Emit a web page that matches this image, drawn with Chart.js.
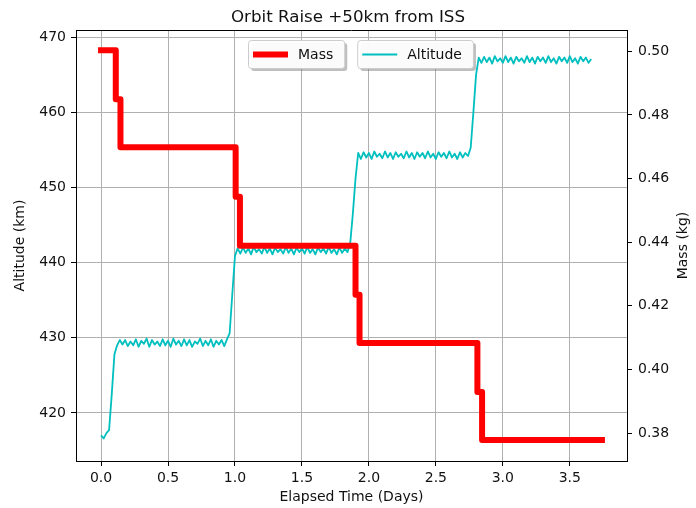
<!DOCTYPE html>
<html lang="en">
<head>
    <meta charset="UTF-8">
    <title>Orbit Raise +50km from ISS</title>
    <style>
        body {
            margin: 0;
            background: white;
        }
        #chart {
            display: block;
        }
    </style>
    <script src="https://cdn.jsdelivr.net/npm/chart.js"></script>
</head>
<body>
    <canvas id="chart" width="696" height="508"></canvas>
    <script>
        // Mass: step changes (days, kg)
        const massTimes = [0, 0.11, 0.145, 1.005, 1.037, 1.90, 1.93, 2.81, 2.845, 3.74];
        const massValues = [0.5003, 0.4849, 0.4698, 0.4543, 0.4389, 0.4235, 0.4083, 0.3929, 0.3778, 0.3778];

        // Altitude sampled every 0.02 days from t = 0 (km)
        const altStart = 0;
        const altStep = 0.02;
        const altitudeValues = [
            417.0, 416.6, 417.3, 417.7, 422.5, 427.8, 429.0, 429.7,
            429.1, 429.7, 428.9, 429.5, 429.0, 429.8, 428.8, 429.6, 429.2, 429.9,
            428.8, 429.7, 429.1, 429.5, 428.9, 429.8, 429.0, 429.6, 428.8, 429.9,
            429.1, 429.6, 428.9, 429.8, 429.0, 429.7, 428.8, 429.5, 429.2, 429.9,
            428.9, 429.6, 429.0, 429.8, 428.8, 429.6, 429.1, 429.7, 428.9, 429.8,
            430.6, 435.8, 440.9, 441.9,
            441.2, 442.0, 441.3, 441.9, 441.1, 442.1, 441.4, 441.8, 441.2, 442.1,
            441.3, 441.9, 441.1, 442.0, 441.4, 441.8, 441.2, 442.1, 441.3, 441.9,
            441.1, 442.0, 441.4, 441.9, 441.2, 442.1, 441.3, 441.8, 441.1, 442.0,
            441.4, 441.9, 441.2, 442.1, 441.3, 441.8, 441.1, 442.0, 441.3, 441.9,
            441.4,
            442.5, 446.5, 451.2, 454.6,
            453.8, 454.7, 454.0, 454.6, 453.8, 454.8, 454.1, 454.5, 453.9, 454.8,
            454.0, 454.6, 453.8, 454.7, 454.1, 454.5, 453.9, 454.8, 454.0, 454.6,
            453.8, 454.7, 454.1, 454.6, 453.9, 454.8, 454.0, 454.5, 453.8, 454.7,
            454.1, 454.6, 453.9, 454.8, 454.0, 454.5, 453.8, 454.7, 454.0, 454.6,
            454.2,
            455.3, 460.0, 465.0, 467.3,
            466.6, 467.4, 466.7, 467.3, 466.5, 467.5, 466.8, 467.2, 466.6, 467.5,
            466.7, 467.3, 466.5, 467.4, 466.8, 467.2, 466.6, 467.5, 466.7, 467.3,
            466.5, 467.4, 466.8, 467.3, 466.6, 467.5, 466.7, 467.2, 466.5, 467.4,
            466.8, 467.3, 466.6, 467.5, 466.7, 467.2, 466.5, 467.4, 466.8, 467.3,
            466.6, 467.1
        ];

        // tick labels
        const xTicks = [0, 0.5, 1.0, 1.5, 2.0, 2.5, 3.0, 3.5];
        const altTicks = [420, 430, 440, 450, 460, 470];
        const massTicks = [0.38, 0.40, 0.42, 0.44, 0.46, 0.48, 0.50];

        const FONT = '"DejaVu Sans", sans-serif';

        const massPoints = massTimes.map((t, i) => ({ x: t, y: massValues[i] }));
        const altPoints = altitudeValues.map((v, i) => ({ x: altStart + i * altStep, y: v }));

        // matplotlib style boxed legends + frame + right axis title
        const extras = {
            id: 'extras',
            afterDatasetsDraw(chart) {
                const { ctx, chartArea } = chart;
                ctx.save();
                ctx.font = '14px ' + FONT;
                let x = chartArea.left + 172;
                const y = chartArea.top + 10;
                const h = 28;
                chart.data.datasets.forEach((ds) => {
                    const w = 50 + ctx.measureText(ds.label).width + 11;
                    // shadow
                    ctx.fillStyle = 'rgba(128,128,128,0.5)';
                    ctx.beginPath();
                    ctx.roundRect(x + 3, y + 3, w, h, 3);
                    ctx.fill();
                    // box
                    ctx.fillStyle = 'rgba(255,255,255,0.95)';
                    ctx.strokeStyle = '#cccccc';
                    ctx.lineWidth = 1;
                    ctx.beginPath();
                    ctx.roundRect(x + 0.5, y + 0.5, w, h, 3);
                    ctx.fill();
                    ctx.stroke();
                    // sample line
                    ctx.strokeStyle = ds.borderColor;
                    ctx.lineWidth = ds.borderWidth;
                    ctx.beginPath();
                    ctx.moveTo(x + 5, y + h / 2 + 0.5);
                    ctx.lineTo(x + 40, y + h / 2 + 0.5);
                    ctx.stroke();
                    // label
                    ctx.fillStyle = '#111';
                    ctx.textBaseline = 'middle';
                    ctx.textAlign = 'left';
                    ctx.fillText(ds.label, x + 50, y + h / 2 + 1);
                    x += w + 13;
                });
                ctx.restore();
            },
            afterDraw(chart) {
                const { ctx, chartArea } = chart;
                ctx.save();
                // top spine
                ctx.strokeStyle = '#000';
                ctx.lineWidth = 1;
                ctx.beginPath();
                ctx.moveTo(chartArea.left, chartArea.top + 0.5);
                ctx.lineTo(chartArea.right, chartArea.top + 0.5);
                ctx.stroke();
                // right axis title, reading bottom to top like matplotlib
                ctx.font = '14px ' + FONT;
                ctx.fillStyle = '#111';
                ctx.textAlign = 'center';
                ctx.textBaseline = 'middle';
                ctx.translate(683, (chartArea.top + chartArea.bottom) / 2);
                ctx.rotate(-Math.PI / 2);
                ctx.fillText('Mass (kg)', 0, 0);
                ctx.restore();
            }
        };

        const ctx = document.getElementById('chart').getContext('2d');
        new Chart(ctx, {
            type: 'line',
            data: {
                datasets: [{
                    label: 'Mass',
                    data: massPoints,
                    yAxisID: 'yMass',
                    borderColor: '#ff0000',
                    borderWidth: 6,
                    stepped: true,
                    borderJoinStyle: 'round',
                    borderCapStyle: 'square',
                    pointRadius: 0,
                    fill: false
                }, {
                    label: 'Altitude',
                    data: altPoints,
                    yAxisID: 'yAlt',
                    borderColor: '#00bfbf',
                    borderWidth: 1.8,
                    borderJoinStyle: 'round',
                    pointRadius: 0,
                    tension: 0,
                    fill: false
                }]
            },
            options: {
                responsive: false,
                animation: false,
                devicePixelRatio: 1,
                layout: { padding: 0 },
                plugins: {
                    legend: { display: false },
                    tooltip: { enabled: false },
                    title: {
                        display: true,
                        text: 'Orbit Raise +50km from ISS',
                        color: '#111',
                        font: { family: FONT, size: 16.7, weight: 'normal', lineHeight: 1 },
                        padding: { top: 9, bottom: 4.3 }
                    }
                },
                scales: {
                    x: {
                        type: 'linear',
                        min: -0.187,
                        max: 3.927,
                        afterBuildTicks: (scale) => { scale.ticks = xTicks.map(v => ({ value: v })); },
                        afterFit: (scale) => { scale.height = 47; },
                        grid: { color: '#b0b0b0', tickColor: '#000', tickLength: 5 },
                        border: { color: '#000', width: 1 },
                        ticks: {
                            color: '#111',
                            font: { family: FONT, size: 14 },
                            padding: 4,
                            maxRotation: 0,
                            callback: (v) => v.toFixed(1)
                        },
                        title: {
                            display: true,
                            text: 'Elapsed Time (Days)',
                            color: '#111',
                            font: { family: FONT, size: 14 },
                            padding: { top: 0, bottom: 2.6 }
                        }
                    },
                    yAlt: {
                        type: 'linear',
                        position: 'left',
                        min: 413.6,
                        max: 470.97,
                        afterBuildTicks: (scale) => { scale.ticks = altTicks.map(v => ({ value: v })); },
                        afterFit: (scale) => { scale.width = 76; },
                        grid: { color: '#b0b0b0', tickColor: '#000', tickLength: 5 },
                        border: { color: '#000', width: 1 },
                        ticks: {
                            color: '#111',
                            font: { family: FONT, size: 14 },
                            padding: 5,
                            callback: (v) => String(v)
                        },
                        title: {
                            display: true,
                            text: 'Altitude (km)',
                            color: '#111',
                            font: { family: FONT, size: 14 },
                            padding: { top: 11.6, bottom: 0 }
                        }
                    },
                    yMass: {
                        type: 'linear',
                        position: 'right',
                        min: 0.3712,
                        max: 0.5067,
                        afterBuildTicks: (scale) => { scale.ticks = massTicks.map(v => ({ value: v })); },
                        afterFit: (scale) => { scale.width = 69; },
                        grid: { drawOnChartArea: false, tickColor: '#000', tickLength: 5 },
                        border: { color: '#000', width: 1 },
                        ticks: {
                            color: '#111',
                            font: { family: FONT, size: 14 },
                            padding: 6,
                            callback: (v) => v.toFixed(2)
                        }
                    }
                }
            },
            plugins: [extras]
        });
    </script>
</body>
</html>
